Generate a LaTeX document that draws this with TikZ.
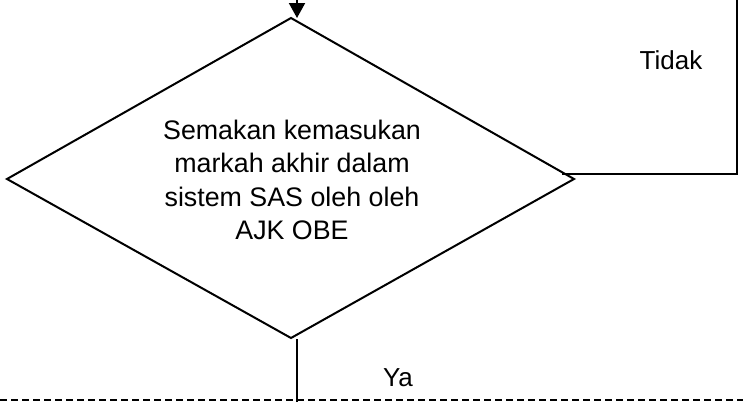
\documentclass[tikz,border=0pt]{standalone}
\usepackage{fontspec}
\setmainfont{Liberation Sans}
\usetikzlibrary{arrows.meta}
\begin{document}
\begin{tikzpicture}[x=1pt,y=-1pt,
  lbl/.style={font=\fontsize{26}{33}\selectfont, inner sep=0pt},
  conn/.style={line width=2pt},
  shapeline/.style={line width=2pt, line join=miter}]
\useasboundingbox[fill=white] (0,0) rectangle (743,402);
% diamond corners
\coordinate (T) at (291,18);
\coordinate (R) at (574,179);
\coordinate (B) at (291,338);
\coordinate (L) at (7,179);
\draw[shapeline] (T)--(R)--(B)--(L)--cycle;
\node[lbl, font=\fontsize{26.8}{33.5}\selectfont, align=center] (txt) at (292,180) {Semakan kemasukan\\markah akhir dalam\\sistem SAS oleh oleh\\AJK OBE};
% incoming arrow
\coordinate (inS) at (297,0);
\coordinate (inE) at (297,18);
\draw[conn, -{Triangle[length=15pt,width=16pt]}] (inS) -- (inE);
% Tidak loop
\coordinate (rs) at (562,174);
\coordinate (rc) at (737,174);
\coordinate (rt) at (737,0);
\draw[conn, line join=miter] (rs) -- (rc) -- (rt);
\node[lbl] (tidak) at (671,60) {Tidak};
% Ya
\coordinate (bs) at (297,339);
\coordinate (be) at (297,402);
\draw[conn] (bs) -- (be);
\node[lbl] (ya) at (398,378) {Ya};
% dashed line
\coordinate (dl) at (0,400);
\coordinate (dr) at (743,400);
\draw[line width=1.5pt, dash pattern=on 7pt off 4pt] (dl) -- (dr);
\end{tikzpicture}
\end{document}
